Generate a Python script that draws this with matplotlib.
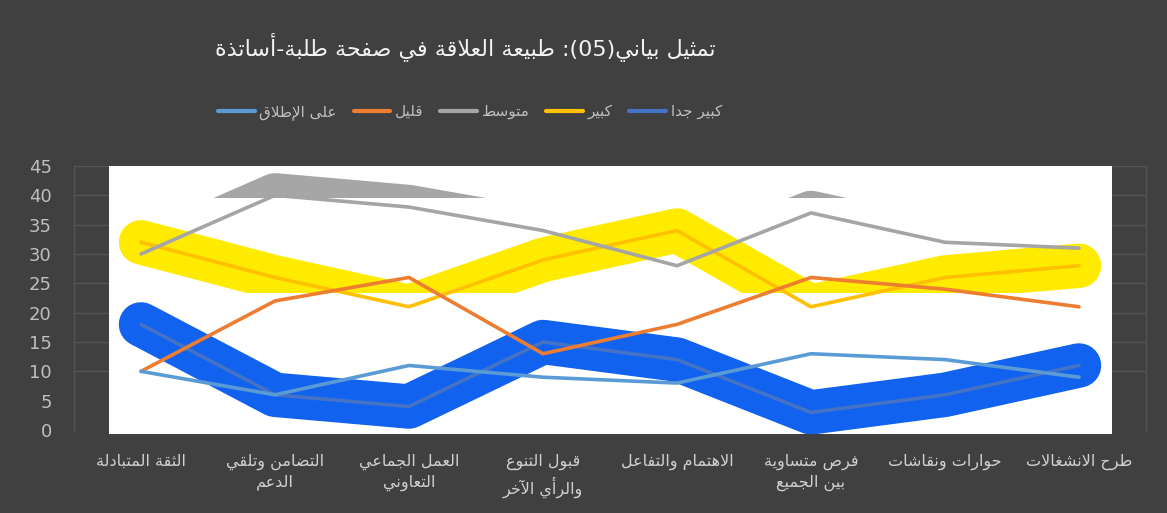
import re
import matplotlib
matplotlib.use("Agg")
import matplotlib.pyplot as plt
from matplotlib.patches import Rectangle
from matplotlib.lines import Line2D

# ---------------- data ----------------
categories = ["الثقة المتبادلة", "التضامن وتلقي\nالدعم", "العمل الجماعي\nالتعاوني",
              "قبول التنوع\nوالرأي الآخر", "الاهتمام والتفاعل", "فرص متساوية\nبين الجميع",
              "حوارات ونقاشات", "طرح الانشغالات"]
series_names = ["كبير جدا", "كبير", "متوسط", "قليل", "على الإطلاق"]
very_large = [18, 6, 4, 15, 12, 3, 6, 11]
large = [32, 26, 21, 29, 34, 21, 26, 28]
medium = [30, 40, 38, 34, 28, 37, 32, 31]
little = [10, 22, 26, 13, 18, 26, 24, 21]
not_at_all = [10, 6, 11, 9, 8, 13, 12, 9]
yticks = [0, 5, 10, 15, 20, 25, 30, 35, 40, 45]
title = "تمثيل بياني(05): طبيعة العلاقة في صفحة طلبة-أساتذة"

# ------------- minimal Arabic shaping + RTL ordering -------------
FORMS = {
    'ء': (0xFE80, None, None, None), 'آ': (0xFE81, 0xFE82, None, None),
    'أ': (0xFE83, 0xFE84, None, None), 'ؤ': (0xFE85, 0xFE86, None, None),
    'إ': (0xFE87, 0xFE88, None, None), 'ئ': (0xFE89, 0xFE8A, 0xFE8B, 0xFE8C),
    'ا': (0xFE8D, 0xFE8E, None, None), 'ب': (0xFE8F, 0xFE90, 0xFE91, 0xFE92),
    'ة': (0xFE93, 0xFE94, None, None), 'ت': (0xFE95, 0xFE96, 0xFE97, 0xFE98),
    'ث': (0xFE99, 0xFE9A, 0xFE9B, 0xFE9C), 'ج': (0xFE9D, 0xFE9E, 0xFE9F, 0xFEA0),
    'ح': (0xFEA1, 0xFEA2, 0xFEA3, 0xFEA4), 'خ': (0xFEA5, 0xFEA6, 0xFEA7, 0xFEA8),
    'د': (0xFEA9, 0xFEAA, None, None), 'ذ': (0xFEAB, 0xFEAC, None, None),
    'ر': (0xFEAD, 0xFEAE, None, None), 'ز': (0xFEAF, 0xFEB0, None, None),
    'س': (0xFEB1, 0xFEB2, 0xFEB3, 0xFEB4), 'ش': (0xFEB5, 0xFEB6, 0xFEB7, 0xFEB8),
    'ص': (0xFEB9, 0xFEBA, 0xFEBB, 0xFEBC), 'ض': (0xFEBD, 0xFEBE, 0xFEBF, 0xFEC0),
    'ط': (0xFEC1, 0xFEC2, 0xFEC3, 0xFEC4), 'ظ': (0xFEC5, 0xFEC6, 0xFEC7, 0xFEC8),
    'ع': (0xFEC9, 0xFECA, 0xFECB, 0xFECC), 'غ': (0xFECD, 0xFECE, 0xFECF, 0xFED0),
    'ف': (0xFED1, 0xFED2, 0xFED3, 0xFED4), 'ق': (0xFED5, 0xFED6, 0xFED7, 0xFED8),
    'ك': (0xFED9, 0xFEDA, 0xFEDB, 0xFEDC), 'ل': (0xFEDD, 0xFEDE, 0xFEDF, 0xFEE0),
    'م': (0xFEE1, 0xFEE2, 0xFEE3, 0xFEE4), 'ن': (0xFEE5, 0xFEE6, 0xFEE7, 0xFEE8),
    'ه': (0xFEE9, 0xFEEA, 0xFEEB, 0xFEEC), 'و': (0xFEED, 0xFEEE, None, None),
    'ى': (0xFEEF, 0xFEF0, None, None), 'ي': (0xFEF1, 0xFEF2, 0xFEF3, 0xFEF4),
}
LAM_ALEF = {'آ': (0xFEF5, 0xFEF6), 'أ': (0xFEF7, 0xFEF8),
            'إ': (0xFEF9, 0xFEFA), 'ا': (0xFEFB, 0xFEFC)}


def joins_next(c):
    return c == 'ـ' or (c in FORMS and FORMS[c][2] is not None)


def joins_prev(c):
    return c == 'ـ' or (c in FORMS and FORMS[c][1] is not None)


def shape(s):
    out = []
    i = 0
    n = len(s)
    while i < n:
        c = s[i]
        prev = s[i - 1] if i > 0 else ''
        if c == 'ل' and i + 1 < n and s[i + 1] in LAM_ALEF:
            iso, fin = LAM_ALEF[s[i + 1]]
            out.append(chr(fin if joins_next(prev) else iso))
            i += 2
            continue
        if c in FORMS:
            nxt = s[i + 1] if i + 1 < n else ''
            p = joins_next(prev) and joins_prev(c)
            q = joins_next(c) and joins_prev(nxt)
            iso, fin, ini, med = FORMS[c]
            if p and q:
                code = med
            elif p:
                code = fin
            elif q:
                code = ini
            else:
                code = iso
            out.append(chr(code))
        else:
            out.append(c)
        i += 1
    return ''.join(out)


MIRROR = {'(': ')', ')': '(', '[': ']', ']': '['}


def rtl(s):
    lines = []
    for line in s.split('\n'):
        v = shape(line)[::-1]
        v = ''.join(MIRROR.get(ch, ch) for ch in v)
        v = re.sub(r'[0-9A-Za-z.]+', lambda m: m.group(0)[::-1], v)
        lines.append(v)
    return '\n'.join(lines)


# ---------------- figure ----------------
plt.rcParams['font.family'] = ['DejaVu Sans']
BG = '#404040'
fig = plt.figure(figsize=(11.67, 5.13), dpi=100, facecolor=BG)
ax = fig.add_axes([74 / 1167, 1 - 430 / 513, (1146 - 74) / 1167, (430 - 166) / 513])
ax.set_facecolor(BG)
ax.set_xlim(-0.5, 7.5)
ax.set_ylim(0, 45)
x = list(range(len(categories)))

# white background image area
white = Rectangle((-0.239, -0.68), 7.485, 45.68, facecolor='white', edgecolor='none',
                  zorder=1, clip_on=False)
ax.add_patch(white)

# thick highlight strokes
band_kw = dict(lw=32, solid_capstyle='round', solid_joinstyle='round', zorder=2)
l1, = ax.plot(x, very_large, color='#1262F0', **band_kw)
l1.set_clip_path(Rectangle((-0.239, -0.68), 7.485, 45.68, transform=ax.transData))
l2, = ax.plot(x, large, color='#FFEB00', **band_kw)
l2.set_clip_path(Rectangle((-0.239, 23.35), 7.485, 22.0, transform=ax.transData))
l3, = ax.plot(x, medium, color='#A6A6A6', **band_kw)
l3.set_clip_path(Rectangle((-0.239, 39.5), 7.485, 5.5, transform=ax.transData))

# thin series lines
colors = {'very_large': '#4472C4', 'large': '#FFC000', 'medium': '#A5A5A5',
          'little': '#ED7D31', 'not_at_all': '#5B9BD5'}
thin_kw = dict(lw=2.6, solid_capstyle='round', solid_joinstyle='round', zorder=3)
ax.plot(x, very_large, color=colors['very_large'], **thin_kw)
ax.plot(x, large, color=colors['large'], **thin_kw)
ax.plot(x, medium, color=colors['medium'], **thin_kw)
ax.plot(x, little, color=colors['little'], **thin_kw)
ax.plot(x, not_at_all, color=colors['not_at_all'], **thin_kw)

# axes styling
ax.set_yticks(yticks)
ax.set_yticklabels([str(v) for v in yticks])
ax.set_xticks(x)
ax.set_xticklabels([rtl(c) for c in categories], linespacing=1.4)
ax.tick_params(axis='y', length=0, pad=16, labelsize=13, labelcolor='#BFBFBF')
ax.tick_params(axis='x', length=0, pad=17, labelsize=11.5, labelcolor='#D0D0D0')
ax.grid(axis='y', color='#555555', lw=1.0, zorder=0)
for gl, v in zip(ax.get_ygridlines(), yticks):
    if v < 10:
        gl.set_visible(False)
ax.set_axisbelow(True)
for side in ['top', 'bottom']:
    ax.spines[side].set_visible(False)
for side in ['left', 'right']:
    ax.spines[side].set_color('#555555')
    ax.spines[side].set_linewidth(1.0)

# title
fig.text(465 / 1167, 1 - 47 / 513, rtl(title), ha='center', va='center',
         fontsize=16, color='#F2F2F2')

# legend (left-to-right visual order)
order = [4, 3, 2, 1, 0]
leg_colors = [colors['very_large'], colors['large'], colors['medium'],
              colors['little'], colors['not_at_all']]
handles = [Line2D([0], [0], color=leg_colors[i], lw=3, solid_capstyle='round') for i in order]
labels = [rtl(series_names[i]) for i in order]
fig.legend(handles, labels, loc='center', bbox_to_anchor=(470 / 1167, 1 - 112 / 513),
           ncol=5, frameon=False, fontsize=11, labelcolor='#BFBFBF',
           handlelength=2.4, handletextpad=0.3, columnspacing=1.1)

fig.savefig('out.png', dpi=100, facecolor=BG)
